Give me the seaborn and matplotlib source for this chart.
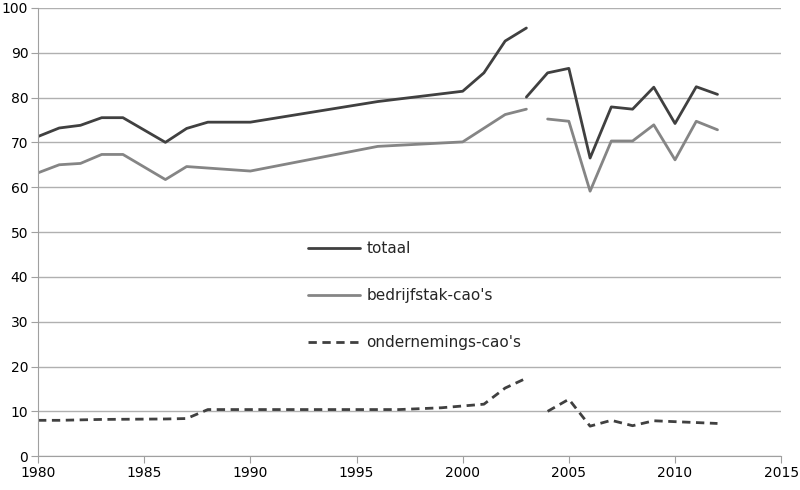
import pandas as pd
import seaborn as sns
import matplotlib
matplotlib.use('Agg')
import matplotlib.pyplot as plt

# totaal, two segments (break in 2003)
tot_jaar_1 = [1980, 1981, 1982, 1983, 1984, 1986, 1987, 1988, 1990, 1996, 2000, 2001, 2002, 2003]
tot_1 = [71.3, 73.2, 73.8, 75.5, 75.5, 70.0, 73.1, 74.5, 74.5, 79.1, 81.4, 85.5, 92.6, 95.5]
tot_jaar_2 = [2003, 2004, 2005, 2006, 2007, 2008, 2009, 2010, 2011, 2012]
tot_2 = [80.1, 85.5, 86.5, 66.5, 77.9, 77.4, 82.3, 74.2, 82.4, 80.7]

# bedrijfstak-cao's
bed_jaar_1 = [1980, 1981, 1982, 1983, 1984, 1986, 1987, 1990, 1996, 2000, 2002, 2003]
bed_1 = [63.2, 65.0, 65.3, 67.3, 67.3, 61.7, 64.6, 63.6, 69.1, 70.1, 76.2, 77.4]
bed_jaar_2 = [2004, 2005, 2006, 2007, 2008, 2009, 2010, 2011, 2012]
bed_2 = [75.2, 74.7, 59.1, 70.3, 70.3, 73.9, 66.1, 74.7, 72.8]

# ondernemings-cao's
ond_jaar_1 = [1980, 1981, 1983, 1986, 1987, 1988, 1997, 1999, 2000, 2001, 2002, 2003]
ond_1 = [8.0, 8.0, 8.2, 8.3, 8.4, 10.4, 10.4, 10.8, 11.2, 11.6, 15.2, 17.4]
ond_jaar_2 = [2004, 2005, 2006, 2007, 2008, 2009, 2010, 2011, 2012]
ond_2 = [10.0, 12.7, 6.7, 8.0, 6.8, 7.9, 7.7, 7.5, 7.3]

reeksen = ["totaal", "bedrijfstak-cao's", "ondernemings-cao's"]

rows = []
for naam, segs in [
    (reeksen[0], [(tot_jaar_1, tot_1), (tot_jaar_2, tot_2)]),
    (reeksen[1], [(bed_jaar_1, bed_1), (bed_jaar_2, bed_2)]),
    (reeksen[2], [(ond_jaar_1, ond_1), (ond_jaar_2, ond_2)]),
]:
    for i, (jaren, waarden) in enumerate(segs):
        for j, w in zip(jaren, waarden):
            rows.append({"jaar": j, "waarde": w, "reeks": naam, "deel": i})
df = pd.DataFrame(rows)

sns.set_style("white")
plt.rcParams['font.family'] = ['DejaVu Sans']

fig = plt.figure(figsize=(8, 4.9), dpi=100)
ax = fig.add_axes([0.0475, 0.069, 0.929, 0.915])

kleuren = {reeksen[0]: "#404040", reeksen[1]: "#858585", reeksen[2]: "#404040"}
sns.lineplot(data=df, x="jaar", y="waarde", hue="reeks", style="reeks",
             units="deel", estimator=None, palette=kleuren,
             dashes={reeksen[0]: "", reeksen[1]: "", reeksen[2]: (3, 2)},
             linewidth=2, sort=True, ax=ax)

ax.set_xlim(1980, 2015)
ax.set_ylim(0, 100)
ax.set_xticks(range(1980, 2016, 5))
ax.set_yticks(range(0, 101, 10))
ax.set_xlabel("")
ax.set_ylabel("")
ax.yaxis.grid(True, color="#b0b0b0", linewidth=1)
ax.set_axisbelow(True)
for s in ["top", "right"]:
    ax.spines[s].set_visible(False)
for s in ["left", "bottom"]:
    ax.spines[s].set_color("#a0a0a0")
ax.tick_params(axis="both", colors="#a0a0a0", labelcolor="black",
               labelsize=10, length=5, pad=2, direction="out", left=True, bottom=True)

leg = ax.legend(loc="upper left", bbox_to_anchor=(0.345, 0.51), frameon=False,
                fontsize=11, handlelength=3.4, labelspacing=2.1, handletextpad=0.4)

fig.savefig("out.png", dpi=100)
